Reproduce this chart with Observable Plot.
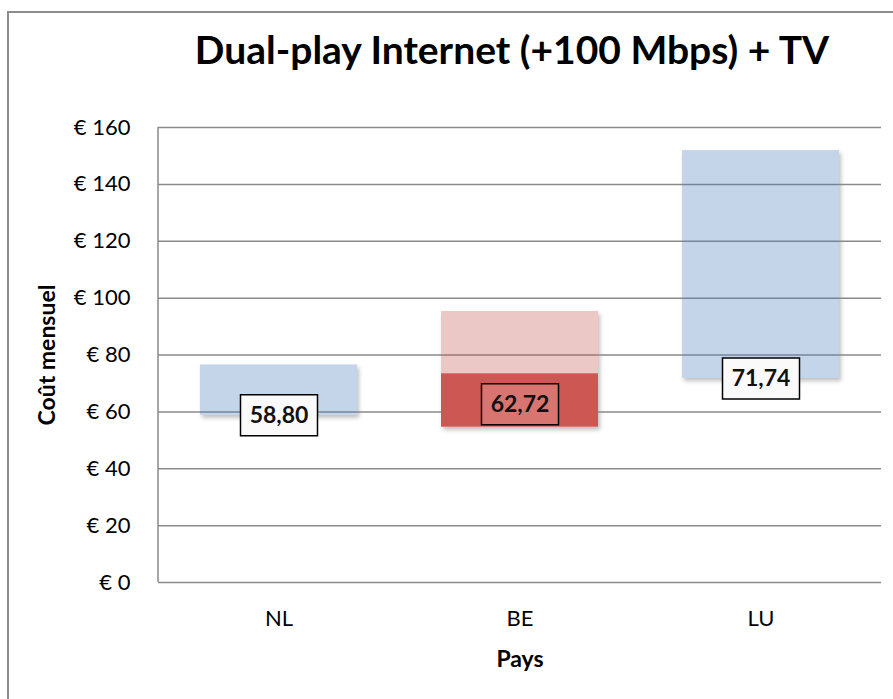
<!DOCTYPE html>
<html>
<head>
<meta charset="utf-8">
<script src="https://cdn.jsdelivr.net/npm/d3@7"></script>
<script src="https://cdn.jsdelivr.net/npm/@observablehq/plot@0.6"></script>
<style>
  body { margin: 0; background: #fff; font-family: Lato, "Open Sans", sans-serif; }
  #page { position: relative; width: 893px; height: 699px; overflow: hidden; background: #fff; }
  #border { position: absolute; left: 7px; top: 11px; width: 950px; height: 760px;
            border-left: 2px solid #8c8c8c; border-top: 2px solid #8c8c8c; box-sizing: border-box; }
  #title { position: absolute; left: 0; top: 27px; width: 1024px; text-align: center;
           font-family: Lato, sans-serif; font-weight: bold; font-size: 39px; line-height: 44px; color: #000; }
  #chart { position: absolute; left: 0; top: 100px; }
</style>
</head>
<body>
<div id="page">
  <div id="border"></div>
  <div id="title">Dual-play Internet (+100 Mbps) + TV</div>
  <div id="chart"></div>
</div>
<script>
// ---- data ----
const countries = ["NL", "BE", "LU"];
const segCountry = ["NL", "BE", "BE", "LU"];
const segLow  = [58.80, 54.6, 73.4, 71.74];
const segHigh = [76.5, 73.4, 95.3, 151.9];
const segKind = ["range", "low", "high", "range"];
const labelCountry = ["NL", "BE", "LU"];
const labelValue = [58.80, 62.72, 71.74];
const labelText = ["58,80", "62,72", "71,74"];
const labelKind = ["range", "low", "range"];
const yTicks = [0, 20, 40, 60, 80, 100, 120, 140, 160];
const xTitle = "Pays";
const yTitle = "Coût mensuel";

const segments = segCountry.map((c, i) => ({country: c, low: segLow[i], high: segHigh[i], kind: segKind[i]}));
const labels = labelCountry.map((c, i) => ({country: c, value: labelValue[i], text: labelText[i], kind: labelKind[i]}));

const barFill = {range: "rgb(79,129,189)", low: "#cd5753", high: "rgb(192,80,77)"};
const barOpacity = {range: 0.33, low: 1, high: 0.32};
const boxFill = {range: "#fafafa", low: "#d97570"};

const boxSymbol = { draw(ctx) { ctx.rect(-38.5, -20.5, 77, 41); } };

const chart = Plot.plot({
  width: 893,
  height: 599,
  marginLeft: 158,
  marginRight: 12,
  marginTop: 27,
  marginBottom: 117,
  style: { fontFamily: "Lato, sans-serif", fontSize: "22px", color: "#000", background: "transparent", overflow: "visible" },
  x: { domain: countries, paddingInner: 0.35, paddingOuter: 0.175, label: null, tickSize: 0, tickPadding: 28 },
  y: { domain: [0, 160], ticks: yTicks, label: null, tickSize: 0, tickPadding: 28, tickFormat: d => "€ " + d },
  marks: [
    // white underlay carrying the soft shadow
    Plot.barY(segments, { x: "country", y1: "low", y2: "high", fill: "#fff" }),
    Plot.gridY(yTicks, { stroke: "#8a8a8a", strokeOpacity: 1, strokeWidth: 1.5 }),
    Plot.barY(segments, {
      x: "country", y1: "low", y2: "high",
      fill: d => barFill[d.kind], fillOpacity: d => barOpacity[d.kind]
    }),
    Plot.dot(labels, {
      x: "country", y: "value", symbol: boxSymbol, r: 10,
      fill: d => boxFill[d.kind], stroke: "#000", strokeWidth: 1.5
    }),
    Plot.text(labels, { x: "country", y: "value", text: "text", fontWeight: "bold", fontSize: 23, fill: "#111" }),
    Plot.text([xTitle], { frameAnchor: "bottom", dy: 84, fontWeight: "bold", fontSize: 23 }),
    Plot.text([yTitle], { frameAnchor: "left", textAnchor: "middle", dx: -111, rotate: -90, fontWeight: "bold", fontSize: 23 })
  ]
});

// shadow on the underlay only
d3.select(chart).select('g[aria-label="bar"]')
  .style("filter", "drop-shadow(2px 3px 2px rgba(0,0,0,0.25))");

// left axis line, positioned with the library's y scale
const ys = chart.scale("y");
d3.select(chart).append("line")
  .attr("x1", 158).attr("x2", 158)
  .attr("y1", ys.apply(0)).attr("y2", ys.apply(160))
  .attr("stroke", "#8a8a8a").attr("stroke-width", 1.5);

document.getElementById("chart").appendChild(chart);
</script>
</body>
</html>
